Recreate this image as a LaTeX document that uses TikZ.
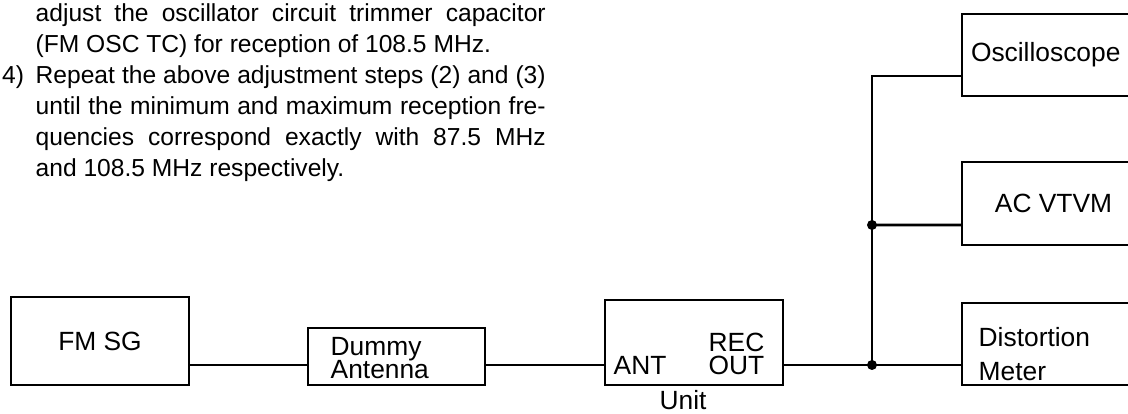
\documentclass[tikz,border=0pt]{standalone}
\usepackage{fontspec}
\setmainfont{Liberation Sans}
\usetikzlibrary{positioning,calc}

\begin{document}
\begin{tikzpicture}[
  every node/.style={font=\fontsize{7.5}{9}\selectfont},
  box/.style={draw, thick, inner sep=0pt, outer sep=0pt}
]
\useasboundingbox (0,0) rectangle (11.28,4.14);

% Adjustment steps
\node[anchor=north west, inner sep=0pt, text width=5.1cm, align=justify,
      font=\fontsize{7}{8.8}\selectfont] (steps) at (0.35,4.11) {%
\noindent adjust the oscillator circuit trimmer capacitor\linebreak
(FM OSC TC) for reception of 108.5 MHz.\par
\noindent\llap{4)\hspace{3.3pt}}Repeat the above adjustment steps (2) and (3)\linebreak
until the minimum and maximum reception fre-\linebreak
quencies correspond exactly with 87.5 MHz\linebreak
and 108.5 MHz respectively.};

% Signal chain
\node[box, minimum width=1.78cm, minimum height=0.88cm] (fmsg) at (1.00,0.73) {FM SG};
\node[box, minimum width=1.77cm, minimum height=0.57cm] (dummy) at (3.965,0.575) {};
\node[anchor=north west, align=left, inner sep=0pt] (dummylbl) at (3.30,0.77) {Dummy\\[-2.6pt]Antenna};
\node[box, minimum width=1.78cm, minimum height=0.85cm] (unit) at (6.94,0.715) {};
\node[anchor=base west, inner sep=0pt] (ant) at (6.13,0.39) {ANT};
\node[anchor=south east, align=right, inner sep=0pt] (recout) at (7.65,0.39) {REC\\[-2.5pt]OUT};
\node[anchor=base, inner sep=0pt] (unitlbl) at (6.83,0.04) {Unit};

% Meters
\node[box, minimum width=1.83cm, minimum height=0.82cm, text width=1.65cm, align=left] (osc) at (10.535,3.59) {Oscilloscope};
\node[box, minimum width=1.83cm, minimum height=0.83cm] (vtvm) at (10.535,2.105) {AC VTVM};
\node[box, minimum width=1.83cm, minimum height=0.82cm] (dist) at (10.535,0.70) {};
\node[anchor=north west, align=left, inner sep=0pt] (distlbl) at (9.78,0.875) {Distortion\\[0.6pt]Meter};

% Wiring
\coordinate (jlow) at (8.72,0.49);
\coordinate (jmid) at (8.72,1.89);
\draw[thick] ([yshift=2mm]fmsg.south east) -- ([yshift=2mm]dummy.south west);
\draw[thick] ([yshift=2mm]dummy.south east) -- ([yshift=2mm]unit.south west);
\draw[thick] ([yshift=2mm]unit.south east) -- ([yshift=2mm]dist.south west);
\draw[thick] ([yshift=2mm]osc.south west) -| (jlow);
\draw[thick] ([yshift=2mm]vtvm.south west) -- (jmid);
\fill (jlow) circle (0.05);
\fill (jmid) circle (0.05);
\end{tikzpicture}
\end{document}
